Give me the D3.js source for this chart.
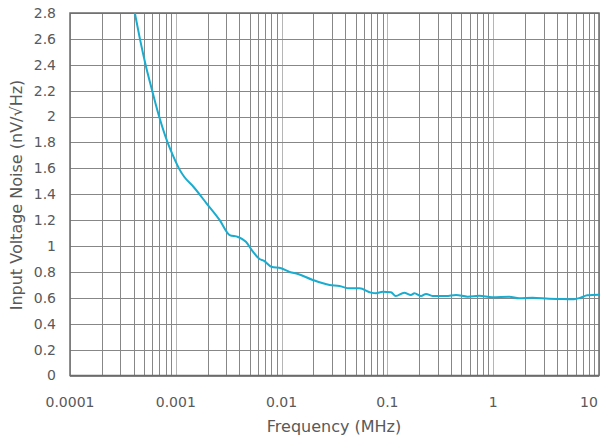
<!DOCTYPE html>
<html>
<head>
<meta charset="utf-8">
<script src="https://cdn.jsdelivr.net/npm/d3@7"></script>
<style>
  body { margin: 0; background: #fff; }
  text { font-family: "DejaVu Sans", sans-serif; fill: #595959; }
</style>
</head>
<body>
<div id="chart"></div>
<script>
// noise curve (frequency in MHz, noise in nV/rtHz)
var freq = [4.1e-4, 4.58e-4, 5.18e-4, 5.98e-4, 6.96e-4, 8.36e-4, 9.5e-4, 1.07e-3, 1.2e-3, 1.46e-3,
            1.95e-3, 2.6e-3, 3.23e-3, 3.87e-3, 4.6e-3, 5.36e-3, 6.2e-3, 6.77e-3, 8e-3, 9.9e-3,
            0.0119, 0.0143, 0.0197, 0.0284, 0.0352, 0.0437, 0.0545, 0.070, 0.078, 0.0904,
            0.108, 0.12, 0.144, 0.167, 0.18, 0.208, 0.232, 0.267, 0.358, 0.445,
            0.575, 0.738, 0.98, 1.42, 1.76, 2.35, 3.37, 4.2, 5.8, 6.7, 7.76, 10];
var noise = [2.8, 2.6, 2.4, 2.2, 2.0, 1.8, 1.69, 1.6, 1.535, 1.46,
             1.33, 1.20, 1.085, 1.07, 1.033, 0.956, 0.90, 0.887, 0.84, 0.828,
             0.80, 0.784, 0.738, 0.699, 0.691, 0.673, 0.673, 0.64, 0.635, 0.647,
             0.643, 0.614, 0.64, 0.622, 0.635, 0.614, 0.63, 0.614, 0.614, 0.622,
             0.609, 0.616, 0.604, 0.609, 0.596, 0.601, 0.593, 0.591, 0.589, 0.601, 0.619, 0.624];
var xTicks = [0.0001, 0.001, 0.01, 0.1, 1, 10];
var xTickLabels = ["0.0001", "0.001", "0.01", "0.1", "1", "10"];
var yTicks = d3.range(0, 2.81, 0.2);

var width = 601, height = 445;
var pLeft = 70, pRight = 599, pTop = 13, pBottom = 375.5;

var svg = d3.select("#chart").append("svg")
    .attr("width", width)
    .attr("height", height);

var x = d3.scaleLog().domain([1e-4, 10]).range([pLeft, pRight]);
var y = d3.scaleLinear().domain([0, 2.8]).range([pBottom, pTop]);

// minor vertical gridlines (2..9 of every decade)
var minor = [];
xTicks.slice(0, -1).forEach(function(d) {
  for (var k = 2; k <= 9; k++) minor.push(d * k);
});
svg.append("g").selectAll("line")
   .data(minor)
   .enter().append("line")
   .attr("x1", function(d) { return Math.round(x(d)) + 0.5; })
   .attr("x2", function(d) { return Math.round(x(d)) + 0.5; })
   .attr("y1", pTop).attr("y2", pBottom)
   .attr("stroke", "#878787")
   .attr("stroke-width", 1);

// decade gridlines are lighter
svg.append("g").selectAll("line")
   .data(xTicks)
   .enter().append("line")
   .attr("x1", function(d) { return Math.round(x(d)) + 0.5; })
   .attr("x2", function(d) { return Math.round(x(d)) + 0.5; })
   .attr("y1", pTop).attr("y2", pBottom)
   .attr("stroke", "#b5b5b5")
   .attr("stroke-width", 1);

// horizontal gridlines
svg.append("g").selectAll("line")
   .data(yTicks)
   .enter().append("line")
   .attr("x1", pLeft).attr("x2", pRight)
   .attr("y1", function(d) { return Math.round(y(d)) + 0.5; })
   .attr("y2", function(d) { return Math.round(y(d)) + 0.5; })
   .attr("stroke", "#878787")
   .attr("stroke-width", 1);

// plot border
svg.append("rect")
   .attr("x", pLeft).attr("y", pTop)
   .attr("width", pRight - pLeft).attr("height", pBottom - pTop)
   .attr("fill", "none")
   .attr("stroke", "#6b6b6b")
   .attr("stroke-width", 1.5);

// y tick labels
svg.append("g").selectAll("text")
   .data(yTicks)
   .enter().append("text")
   .attr("x", 56)
   .attr("y", function(d) { return y(d); })
   .attr("dy", "0.35em")
   .attr("text-anchor", "end")
   .style("font-size", "14px")
   .text(function(d) { return d3.format("~g")(+d.toFixed(1)); });

// x tick labels
svg.append("g").selectAll("text")
   .data(xTicks)
   .enter().append("text")
   .attr("x", function(d, i) { return i == xTicks.length - 1 ? x(d) - 10 : x(d); })
   .attr("y", 402)
   .attr("dy", "0.35em")
   .attr("text-anchor", "middle")
   .style("font-size", "14px")
   .text(function(d, i) { return xTickLabels[i]; });

// axis titles
svg.append("text")
   .attr("x", 334).attr("y", 426)
   .attr("dy", "0.35em")
   .attr("text-anchor", "middle")
   .style("font-size", "16px")
   .text("Frequency (MHz)");

svg.append("text")
   .attr("transform", "translate(16,195) rotate(-90)")
   .attr("dy", "0.35em")
   .attr("text-anchor", "middle")
   .style("font-size", "16px")
   .text("Input Voltage Noise (nV/\u221AHz)");

// the noise curve
var line = d3.line()
   .curve(d3.curveMonotoneX)
   .x(function(d, i) { return x(freq[i]); })
   .y(function(d) { return y(d); });

svg.append("path")
   .datum(noise)
   .attr("d", line)
   .attr("fill", "none")
   .attr("stroke", "#1aaccf")
   .attr("stroke-width", 2);
</script>
</body>
</html>
